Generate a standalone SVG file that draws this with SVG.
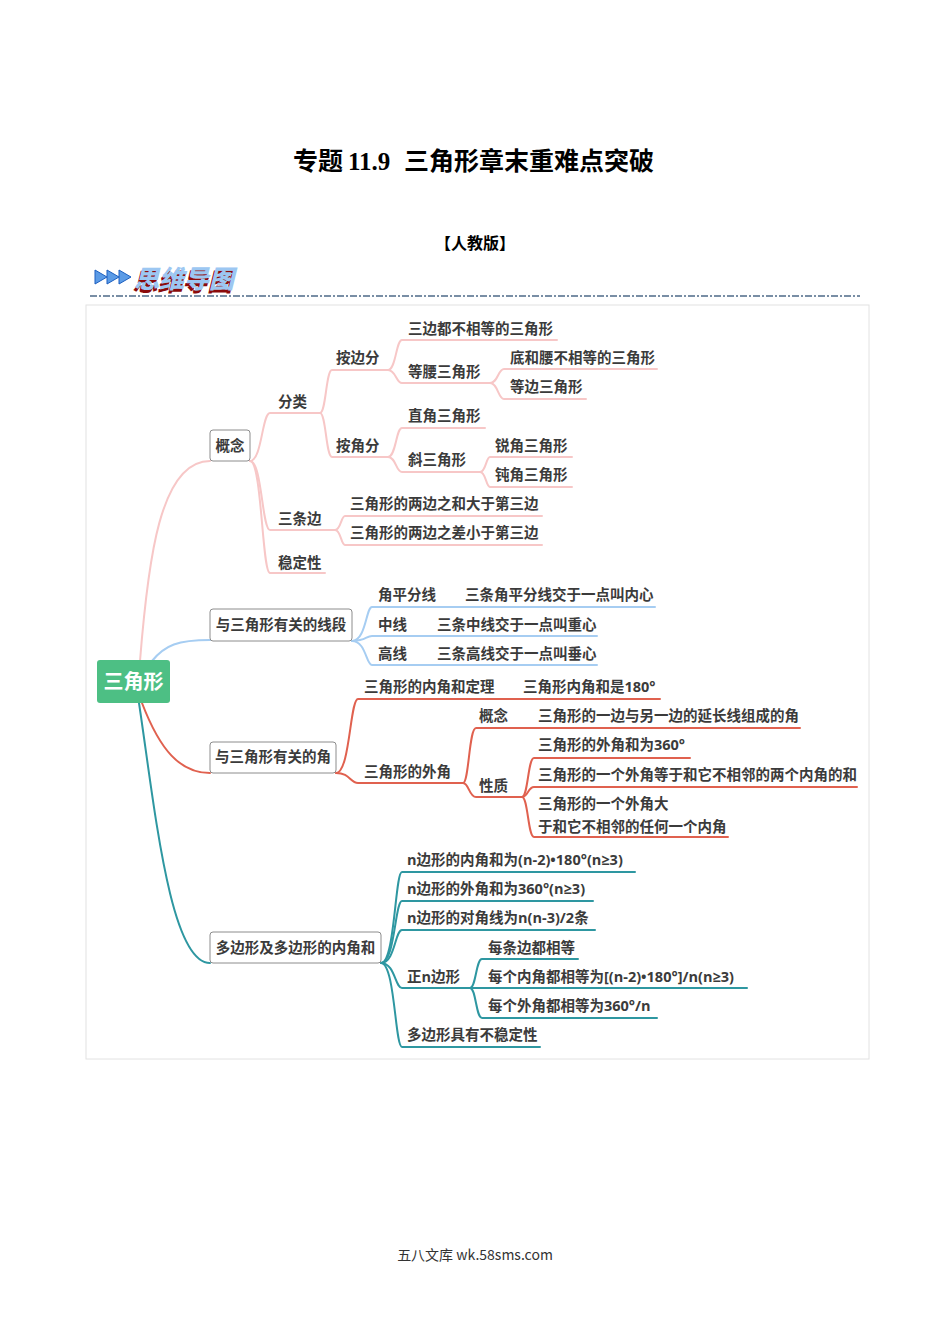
<svg xmlns="http://www.w3.org/2000/svg" width="950" height="1344" viewBox="0 0 950 1344">
<style>
.t{font-family:"Open Sans","Noto Sans","Noto Sans CJK SC",sans-serif;font-weight:700;font-size:14.5px;fill:#3b3b3b}
.box{fill:#fff;stroke:#8c8c8c;stroke-width:1}
.c{fill:none;stroke-width:2;stroke-linecap:round}
.pk{stroke:#f7c7c7}
.bl{stroke:#a6cdf2}
.rd{stroke:#e0614f}
.tl{stroke:#2e97a1}
.logo{font-family:"Noto Sans CJK SC",sans-serif;font-weight:900;font-size:25px}
</style>
<rect width="950" height="1344" fill="#fff"/>

<g id="header">
<text y="170" font-family="'Noto Sans CJK SC',sans-serif" font-weight="700" font-size="25" fill="#000"><tspan x="293">专题</tspan><tspan x="348" font-family="'Liberation Serif',serif">11.9</tspan><tspan x="404">三角形章末重难点突破</tspan></text>
<text x="475" y="249" text-anchor="middle" font-family="'Noto Sans CJK SC',sans-serif" font-weight="700" font-size="16" fill="#000">【人教版】</text>
<polygon points="95,270 95,284 107,277" fill="#5b9be6" stroke="#1c5fc0" stroke-width="1"/>
<polygon points="107,270 107,284 119,277" fill="#5b9be6" stroke="#1c5fc0" stroke-width="1"/>
<polygon points="119,270 119,284 131,277" fill="#5b9be6" stroke="#1c5fc0" stroke-width="1"/>
<g transform="translate(134,288) skewX(-14)">
<text class="logo" x="-1" y="2.5" fill="#8b0a0a">思维导图</text>
<text class="logo" x="0" y="0" fill="#9cc7f2">思维导图</text>
</g>
<line x1="90" y1="296" x2="860" y2="296" stroke="#4d6a88" stroke-width="1.5" stroke-dasharray="7,2,2,2"/>
</g>

<rect id="frame" x="86" y="305" width="783" height="754" fill="#fff" stroke="#e2e2e2" stroke-width="1"/>

<g id="connectors">
<path class="c pk" stroke-width="4" d="M140,661 C148,560 160,461 210,461"/>
<path class="c bl" stroke-width="3.5" d="M152,661 C165,645 178,640 210,640"/>
<path class="c rd" stroke-width="4" d="M142,703 C160,750 180,773 210,773"/>
<path class="c tl" stroke-width="4" d="M139,703 C155,810 170,963 210,963"/>

<path class="c pk" d="M250,461 C262,461 262,413 270,413 H320"/>
<path class="c pk" d="M250,461 C262,461 262,530 270,530 H335"/>
<path class="c pk" d="M250,461 C262,461 262,573 270,573 H325"/>
<path class="c pk" d="M320,413 C326,413 326,370 332,370 H388"/>
<path class="c pk" d="M320,413 C326,413 326,457 332,457 H388"/>
<path class="c pk" d="M388,370 C396,370 396,340 402,340 H557"/>
<path class="c pk" d="M388,370 C396,370 396,383 402,383 H490"/>
<path class="c pk" d="M490,383 C498,383 498,369 504,369 H657"/>
<path class="c pk" d="M490,383 C498,383 498,399 504,399 H586"/>
<path class="c pk" d="M388,457 C396,457 396,428 402,428 H485"/>
<path class="c pk" d="M388,457 C396,457 396,472 402,472 H480"/>
<path class="c pk" d="M480,472 C486,472 486,457 490,457 H572"/>
<path class="c pk" d="M480,472 C486,472 486,487 490,487 H572"/>
<path class="c pk" d="M335,530 C341,530 341,516 345,516 H542"/>
<path class="c pk" d="M335,530 C341,530 341,545 345,545 H542"/>

<path class="c bl" d="M352,641 C366,641 366,607 372,607 H655"/>
<path class="c bl" d="M352,641 C366,641 366,636 372,636 H597"/>
<path class="c bl" d="M352,641 C366,641 366,665 372,665 H597"/>

<path class="c rd" d="M336,773 C350,773 350,699 358,699 H660"/>
<path class="c rd" d="M336,773 C350,773 350,783 358,783 H463"/>
<path class="c rd" d="M463,783 C469,783 469,728 476,728 H800"/>
<path class="c rd" d="M463,783 C469,783 469,797 476,797 H522"/>
<path class="c rd" d="M522,797 C528,797 528,758 534,758 H690"/>
<path class="c rd" d="M522,797 C528,797 528,787 534,787 H857"/>
<path class="c rd" d="M522,797 C528,797 528,837 534,837 H728"/>

<path class="c tl" d="M381,963 C395,963 395,872 402,872 H635"/>
<path class="c tl" d="M381,963 C395,963 395,901 402,901 H593"/>
<path class="c tl" d="M381,963 C395,963 395,930 402,930 H595"/>
<path class="c tl" d="M381,963 C395,963 395,988 402,988 H470"/>
<path class="c tl" d="M381,963 C395,963 395,1047 402,1047 H540"/>
<path class="c tl" d="M470,988 C476,988 476,959 482,959 H578"/>
<path class="c tl" d="M470,988 H747"/>
<path class="c tl" d="M470,988 C476,988 476,1018 482,1018 H657"/>
</g>

<g id="root">
<rect x="97" y="660" width="73" height="43" rx="3" fill="#4dbf84"/>
<text x="133.5" y="689" text-anchor="middle" font-family="'Noto Sans CJK SC',sans-serif" font-weight="700" font-size="20" fill="#fff">三角形</text>
</g>

<g id="n-gainian">
<rect class="box" x="210" y="430" width="40" height="31" rx="3"/>
<text class="t" x="230" y="451" text-anchor="middle">概念</text>
</g>
<g id="n-fenlei"><text class="t" x="278" y="407">分类</text></g>
<g id="n-anbianfen"><text class="t" x="336" y="363">按边分</text></g>
<g id="n-sanbianbudeng"><text class="t" x="408" y="334">三边都不相等的三角形</text></g>
<g id="n-dengyao"><text class="t" x="408" y="377">等腰三角形</text></g>
<g id="n-diheyao"><text class="t" x="510" y="363">底和腰不相等的三角形</text></g>
<g id="n-dengbian"><text class="t" x="510" y="392">等边三角形</text></g>
<g id="n-anjiaofen"><text class="t" x="336" y="451">按角分</text></g>
<g id="n-zhijiao"><text class="t" x="408" y="421">直角三角形</text></g>
<g id="n-xie"><text class="t" x="408" y="465">斜三角形</text></g>
<g id="n-ruijiao"><text class="t" x="495" y="451">锐角三角形</text></g>
<g id="n-dunjiao"><text class="t" x="495" y="480">钝角三角形</text></g>
<g id="n-santiaobian"><text class="t" x="278" y="524">三条边</text></g>
<g id="n-he"><text class="t" x="350" y="509">三角形的两边之和大于第三边</text></g>
<g id="n-cha"><text class="t" x="350" y="538">三角形的两边之差小于第三边</text></g>
<g id="n-wending"><text class="t" x="278" y="568">稳定性</text></g>

<g id="n-xianduan">
<rect class="box" x="210" y="609" width="142" height="32" rx="3"/>
<text class="t" x="281" y="630" text-anchor="middle">与三角形有关的线段</text>
</g>
<g id="n-jiaopingfen"><text class="t" x="378" y="600">角平分线</text></g>
<g id="n-neixin"><text class="t" x="465" y="600">三条角平分线交于一点叫内心</text></g>
<g id="n-zhongxian"><text class="t" x="378" y="630">中线</text></g>
<g id="n-zhongxin"><text class="t" x="437" y="630">三条中线交于一点叫重心</text></g>
<g id="n-gaoxian"><text class="t" x="378" y="659">高线</text></g>
<g id="n-chuixin"><text class="t" x="437" y="659">三条高线交于一点叫垂心</text></g>

<g id="n-jiao">
<rect class="box" x="210" y="742" width="126" height="31" rx="3"/>
<text class="t" x="273" y="762" text-anchor="middle">与三角形有关的角</text>
</g>
<g id="n-neijiaohe"><text class="t" x="364" y="692">三角形的内角和定理</text></g>
<g id="n-180"><text class="t" x="523" y="692">三角形内角和是180°</text></g>
<g id="n-waijiao"><text class="t" x="364" y="777">三角形的外角</text></g>
<g id="n-gainian2"><text class="t" x="479" y="721">概念</text></g>
<g id="n-yanchang"><text class="t" x="538" y="721">三角形的一边与另一边的延长线组成的角</text></g>
<g id="n-xingzhi"><text class="t" x="479" y="791">性质</text></g>
<g id="n-360"><text class="t" x="538" y="750">三角形的外角和为360°</text></g>
<g id="n-dengyu"><text class="t" x="538" y="780">三角形的一个外角等于和它不相邻的两个内角的和</text></g>
<g id="n-dayu"><text class="t" x="538" y="809">三角形的一个外角大</text><text class="t" x="538" y="832">于和它不相邻的任何一个内角</text></g>

<g id="n-duobianxing">
<rect class="box" x="210" y="932" width="171" height="31" rx="3"/>
<text class="t" x="295.5" y="953" text-anchor="middle">多边形及多边形的内角和</text>
</g>
<g id="n-nneijiao"><text class="t" x="407" y="865">n边形的内角和为(n-2)•180°(n≥3)</text></g>
<g id="n-nwaijiao"><text class="t" x="407" y="894">n边形的外角和为360°(n≥3)</text></g>
<g id="n-duijiao"><text class="t" x="407" y="923">n边形的对角线为n(n-3)/2条</text></g>
<g id="n-zheng"><text class="t" x="407" y="982">正n边形</text></g>
<g id="n-meitiao"><text class="t" x="488" y="953">每条边都相等</text></g>
<g id="n-meigenei"><text class="t" x="488" y="982">每个内角都相等为[(n-2)•180°]/n(n≥3)</text></g>
<g id="n-meigewai"><text class="t" x="488" y="1011">每个外角都相等为360°/n</text></g>
<g id="n-buwending"><text class="t" x="407" y="1040">多边形具有不稳定性</text></g>

<g id="footer">
<text x="475" y="1260" text-anchor="middle" font-family="'Noto Sans CJK SC',sans-serif" font-size="14" fill="#333">五八文库 wk.58sms.com</text>
</g>
</svg>
